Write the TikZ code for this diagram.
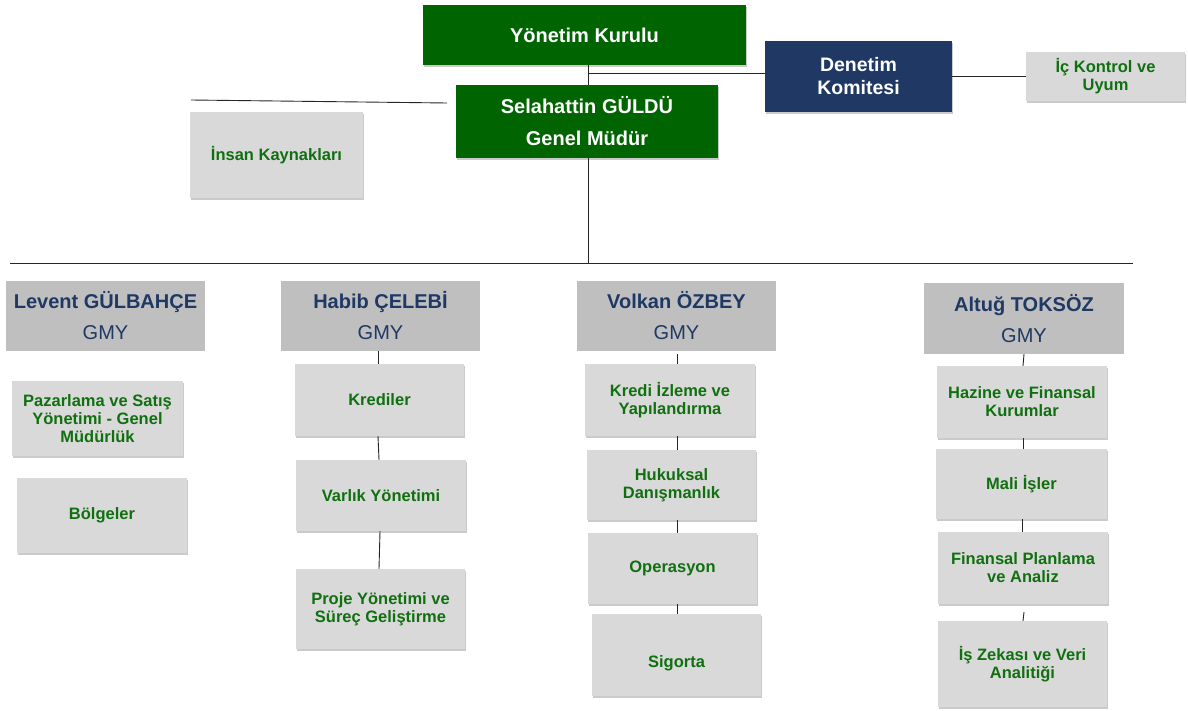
\documentclass[tikz,border=0pt]{standalone}
\usepackage{fontspec}
\setmainfont{Liberation Sans}
\usetikzlibrary{shadows,calc}
\definecolor{topgreen}{HTML}{006400}
\definecolor{navy}{HTML}{1F3864}
\definecolor{txtgreen}{HTML}{107010}
\definecolor{lightgray}{HTML}{D9D9D9}
\definecolor{gmygray}{HTML}{BFBFBF}
\tikzset{
  shd/.style={drop shadow={shadow xshift=1.2pt,shadow yshift=-2pt,opacity=0.35,fill=black!60}},
  topbox/.style={shd,fill=topgreen,text=white,font=\fontsize{20}{32}\selectfont\bfseries,align=center,inner sep=0pt},
  navybox/.style={shd,fill=navy,text=white,font=\fontsize{19.5}{23}\selectfont\bfseries,align=center,inner sep=0pt},
  subbox/.style={shd,fill=lightgray,text=txtgreen,font=\fontsize{16.5}{18}\selectfont\bfseries,align=center,inner sep=0pt},
  gmybox/.style={fill=gmygray,text=navy,font=\fontsize{20}{31}\selectfont,align=center,inner sep=0pt},
  conn/.style={draw=black!85,line width=0.9pt},
}
\newcommand{\bx}[6]{\node[#1,minimum width=#4,minimum height=#5] (#2) at (#3) {#6};}
\begin{document}
\begin{tikzpicture}[x=1pt,y=-1pt]
\useasboundingbox (0,0) rectangle (1188,711);
% top
\bx{topbox}{yk}{584.5,35}{323pt}{60pt}{Yönetim Kurulu}
\bx{topbox}{sg}{587,121.5}{262pt}{73pt}{Selahattin GÜLDÜ\\Genel Müdür}
\bx{navybox}{dk}{858.5,76.5}{187pt}{71pt}{Denetim\\Komitesi}
\bx{subbox}{ik}{1105.5,76.5}{159pt}{49pt}{İç Kontrol ve\\Uyum}
\bx{subbox}{ins}{276.5,155}{173pt}{86pt}{İnsan Kaynakları}
% GMY
\bx{gmybox}{g1}{105.5,316}{199pt}{70pt}{\textbf{Levent GÜLBAHÇE}\\GMY}
\bx{gmybox}{g2}{380.5,316}{199pt}{70pt}{\textbf{Habib ÇELEBİ}\\GMY}
\bx{gmybox}{g3}{676.5,316}{199pt}{70pt}{\textbf{Volkan ÖZBEY}\\GMY}
\bx{gmybox}{g4}{1024,318.5}{200pt}{71pt}{\textbf{Altuğ TOKSÖZ}\\GMY}
% column 1
\bx{subbox}{pz}{97.5,418.5}{171pt}{75pt}{Pazarlama ve Satış\\Yönetimi - Genel\\Müdürlük}
\bx{subbox}{bg}{102,515.5}{170pt}{75pt}{Bölgeler}
% column 2
\bx{subbox}{kr}{379.5,400}{169pt}{72pt}{Krediler}
\bx{subbox}{vy}{381,495.5}{170pt}{71pt}{Varlık Yönetimi}
\bx{subbox}{pj}{380.5,609}{169pt}{80pt}{Proje Yönetimi ve\\Süreç Geliştirme}
% column 3
\bx{subbox}{ki}{670,400}{170pt}{72pt}{Kredi İzleme ve\\Yapılandırma}
\bx{subbox}{hk}{671.5,485}{169pt}{70pt}{Hukuksal\\Danışmanlık}
\bx{subbox}{op}{672.5,568.5}{169pt}{71pt}{Operasyon}
\bx{subbox}{sgt}{676.5,655}{169pt}{82pt}{\raisebox{-12pt}[0pt][0pt]{Sigorta}}
% column 4
\bx{subbox}{hz}{1022,402}{170pt}{72pt}{Hazine ve Finansal\\Kurumlar}
\bx{subbox}{ml}{1021.5,484}{171pt}{70pt}{Mali İşler}
\bx{subbox}{fp}{1023,568}{170pt}{72pt}{Finansal Planlama\\ve Analiz}
\bx{subbox}{iz}{1022.5,664}{169pt}{86pt}{İş Zekası ve Veri\\Analitiği}
% connectors
\coordinate (j1) at (588,73);
\coordinate (hl) at (191,100);
\coordinate (hr) at (447,103);
\coordinate (busL) at (10,263);
\coordinate (busR) at (1133,263);
\draw[conn] (sg.north -| j1) -- (yk.south -| j1);
\draw[conn] (j1) -- (j1 -| dk.west);
\draw[conn] (dk.east) -- (ik.west);
\draw[conn] (hl) -- (hr);
\draw[conn] (sg.south -| j1) -- (busL -| j1);
\draw[conn] (busL) -- (busR);
\draw[conn] (g2.south -| 378,0) -- (kr.north -| 378,0);
\draw[conn] (kr.south -| 378,0) -- (vy.north -| 379,0);
\draw[conn] (vy.south -| 380,0) -- (pj.north -| 379,0);
\draw[conn] ($(g3.south -| 677,0)+(0,3)$) -- (ki.north -| 677,0);
\draw[conn] (ki.south -| 677,0) -- (hk.north -| 677,0);
\draw[conn] (hk.south -| 677,0) -- (op.north -| 677,0);
\draw[conn] (op.south -| 677,0) -- (sgt.north -| 677,0);
\draw[conn] (g4.south -| 1024,0) -- (hz.north -| 1023,0);
\draw[conn] (hz.south -| 1023,0) -- (ml.north -| 1023,0);
\draw[conn] (ml.south -| 1022,0) -- (fp.north -| 1022,0);
\draw[conn] ($(fp.south -| 1024,0)+(0,8)$) -- (iz.north -| 1023,0);
\end{tikzpicture}
\end{document}
